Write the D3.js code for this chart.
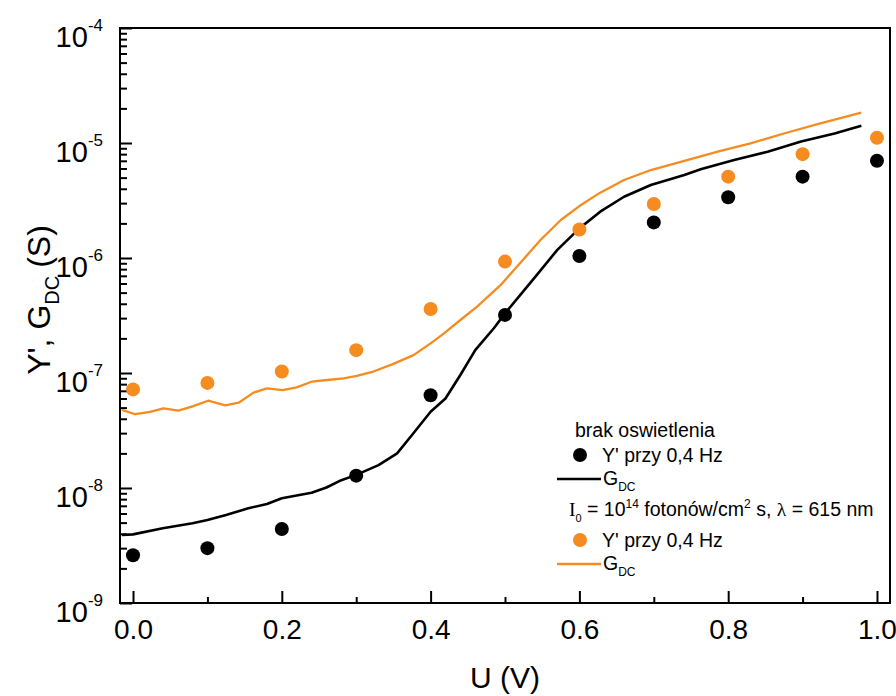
<!DOCTYPE html>
<html>
<head>
<meta charset="utf-8">
<script src="https://cdn.jsdelivr.net/npm/d3@7"></script>
<style>
  html, body { margin: 0; padding: 0; background: #fff; }
  svg { display: block; font-family: "Liberation Sans", Arial, sans-serif; }
</style>
</head>
<body>
<svg id="chart" width="896" height="696"></svg>
<script>
// Measured voltages (V) for the admittance points
const uPoints = [0.0, 0.1, 0.2, 0.3, 0.4, 0.5, 0.6, 0.7, 0.8, 0.9, 1.0];
// Y' at 0.4 Hz, no illumination (S)
const yDark = [2.6e-9, 3.0e-9, 4.4e-9, 1.28e-8, 6.4e-8, 3.2e-7, 1.04e-6, 2.04e-6, 3.37e-6, 5.1e-6, 7.0e-6];
// Y' at 0.4 Hz, illuminated (S)
const yLight = [7.2e-8, 8.2e-8, 1.03e-7, 1.58e-7, 3.6e-7, 9.3e-7, 1.77e-6, 2.95e-6, 5.1e-6, 8.0e-6, 1.11e-5];

// DC conductance, no illumination
const gDarkU = [-0.015, 0.0, 0.04, 0.08, 0.10, 0.125, 0.155, 0.18, 0.20, 0.24, 0.26, 0.28, 0.30, 0.33, 0.355, 0.375, 0.40, 0.42, 0.44, 0.46, 0.485, 0.50, 0.539, 0.57, 0.60, 0.628, 0.66, 0.696, 0.741, 0.763, 0.808, 0.853, 0.898, 0.943, 0.979];
const gDark = [3.9e-9, 3.95e-9, 4.47e-9, 4.93e-9, 5.27e-9, 5.83e-9, 6.66e-9, 7.26e-9, 8.13e-9, 9.1e-9, 1.01e-8, 1.17e-8, 1.30e-8, 1.58e-8, 2.0e-8, 2.89e-8, 4.6e-8, 6.0e-8, 9.6e-8, 1.58e-7, 2.45e-7, 3.3e-7, 6.65e-7, 1.17e-6, 1.81e-6, 2.53e-6, 3.41e-6, 4.31e-6, 5.27e-6, 5.9e-6, 7.11e-6, 8.41e-6, 1.03e-5, 1.21e-5, 1.41e-5];

// DC conductance, illuminated
const gLightU = [-0.015, 0.003, 0.023, 0.041, 0.061, 0.081, 0.101, 0.124, 0.142, 0.162, 0.18, 0.201, 0.22, 0.24, 0.261, 0.283, 0.301, 0.323, 0.35, 0.377, 0.40, 0.418, 0.44, 0.4625, 0.494, 0.516, 0.548, 0.575, 0.60, 0.628, 0.66, 0.696, 0.741, 0.786, 0.83, 0.875, 0.92, 0.979];
const gLight = [4.77e-8, 4.38e-8, 4.6e-8, 4.93e-8, 4.7e-8, 5.16e-8, 5.74e-8, 5.24e-8, 5.52e-8, 6.75e-8, 7.36e-8, 7.11e-8, 7.51e-8, 8.4e-8, 8.69e-8, 8.99e-8, 9.42e-8, 1.03e-7, 1.20e-7, 1.43e-7, 1.81e-7, 2.21e-7, 2.89e-7, 3.78e-7, 5.8e-7, 8.4e-7, 1.44e-6, 2.14e-6, 2.83e-6, 3.70e-6, 4.77e-6, 5.82e-6, 7.0e-6, 8.41e-6, 9.93e-6, 1.21e-5, 1.46e-5, 1.84e-5];

// Axis ticks
const xMajor = [0.0, 0.2, 0.4, 0.6, 0.8, 1.0];
const xMinor = [0.1, 0.3, 0.5, 0.7, 0.9];
const yExponents = [-9, -8, -7, -6, -5, -4];

const orange = "#f68b1f";

const svg = d3.select("#chart");
const frame = { left: 120, right: 890, top: 28, bottom: 603 };

const x = d3.scaleLinear().domain([-0.0175, 1.0175]).range([frame.left, frame.right]);
const y = d3.scaleLog().domain([1e-9, 1e-4]).range([frame.bottom, frame.top]);

// Plot frame
svg.append("rect")
  .attr("x", frame.left).attr("y", frame.top)
  .attr("width", frame.right - frame.left).attr("height", frame.bottom - frame.top)
  .attr("fill", "none").attr("stroke", "#000").attr("stroke-width", 2);

// Bottom axis: inward major and minor ticks
const xAxisMajor = svg.append("g")
  .attr("transform", `translate(0,${frame.bottom})`)
  .call(d3.axisBottom(x).tickValues(xMajor).tickSize(-12).tickPadding(16).tickFormat(d3.format(".1f")));
const xAxisMinor = svg.append("g")
  .attr("transform", `translate(0,${frame.bottom})`)
  .call(d3.axisBottom(x).tickValues(xMinor).tickSize(-6).tickFormat(""));
[xAxisMajor, xAxisMinor].forEach(g => {
  g.select(".domain").remove();
  g.selectAll(".tick line").attr("stroke", "#000").attr("stroke-width", 2);
});
xAxisMajor.selectAll(".tick text")
  .attr("font-size", 28).attr("fill", "#000")
  .attr("font-family", "'Liberation Sans', Arial, sans-serif");

// Left axis: decades plus minor ticks 2..9
const yMinorVals = [];
yExponents.slice(0, -1).forEach(e => { for (let k = 2; k <= 9; k++) yMinorVals.push(k * Math.pow(10, e)); });
const yMajorVals = yExponents.map(e => Math.pow(10, e));

const yAxisMajor = svg.append("g")
  .attr("transform", `translate(${frame.left},0)`)
  .call(d3.axisLeft(y).tickValues(yMajorVals).tickSize(-12).tickFormat(""));
const yAxisMinor = svg.append("g")
  .attr("transform", `translate(${frame.left},0)`)
  .call(d3.axisLeft(y).tickValues(yMinorVals).tickSize(-7).tickFormat(""));
[yAxisMajor, yAxisMinor].forEach(g => {
  g.select(".domain").remove();
  g.selectAll(".tick line").attr("stroke", "#000").attr("stroke-width", 2);
});

// Decade labels as 10 with a superscript exponent
const yLabels = svg.append("g");
yExponents.forEach(e => {
  const t = yLabels.append("text")
    .attr("x", 103).attr("y", y(Math.pow(10, e)) + 19)
    .attr("text-anchor", "end").attr("font-size", 29).attr("fill", "#000");
  t.append("tspan").text("10");
  t.append("tspan").attr("font-size", 17).attr("dy", -16).text("-" + Math.abs(e));
});

// Axis titles
svg.append("text")
  .attr("x", 505).attr("y", 688).attr("text-anchor", "middle")
  .attr("font-size", 30).attr("fill", "#000").text("U (V)");

const yTitle = svg.append("text")
  .attr("transform", "translate(50,300) rotate(-90)")
  .attr("text-anchor", "middle").attr("font-size", 32).attr("fill", "#000");
yTitle.append("tspan").text("Y', G");
yTitle.append("tspan").attr("font-size", 20).attr("dy", 9).text("DC");
yTitle.append("tspan").attr("dy", -9).attr("dx", 8).text("(S)");

// Curves
const line = d3.line().x(d => x(d[0])).y(d => y(d[1]));
svg.append("path")
  .datum(d3.zip(gDarkU, gDark))
  .attr("d", line).attr("fill", "none").attr("stroke", "#000").attr("stroke-width", 2.6)
  .attr("stroke-linejoin", "round");
svg.append("path")
  .datum(d3.zip(gLightU, gLight))
  .attr("d", line).attr("fill", "none").attr("stroke", orange).attr("stroke-width", 2.3)
  .attr("stroke-linejoin", "round");

// Points
svg.append("g").selectAll("circle")
  .data(d3.zip(uPoints, yDark)).join("circle")
  .attr("cx", d => x(d[0])).attr("cy", d => y(d[1])).attr("r", 7).attr("fill", "#000");
svg.append("g").selectAll("circle")
  .data(d3.zip(uPoints, yLight)).join("circle")
  .attr("cx", d => x(d[0])).attr("cy", d => y(d[1])).attr("r", 7).attr("fill", orange);

// Legend
const lg = svg.append("g").attr("font-size", 19.5).attr("fill", "#000");
lg.append("text").attr("x", 575).attr("y", 437).text("brak oswietlenia");

lg.append("circle").attr("cx", 580).attr("cy", 455).attr("r", 7).attr("fill", "#000");
lg.append("text").attr("x", 602).attr("y", 462).text("Y' przy 0,4 Hz");
lg.append("line").attr("x1", 557).attr("x2", 601).attr("y1", 479).attr("y2", 479)
  .attr("stroke", "#000").attr("stroke-width", 2.6);
const g1 = lg.append("text").attr("x", 603).attr("y", 485);
g1.append("tspan").text("G");
g1.append("tspan").attr("font-size", 12).attr("dy", 6).text("DC");

const serif = "'Liberation Serif', 'Times New Roman', serif";
const cond = lg.append("text").attr("x", 569).attr("y", 516);
cond.append("tspan").attr("font-family", serif).text("I");
cond.append("tspan").attr("font-size", 11).attr("dy", 6).text("0");
cond.append("tspan").attr("dy", -6).text(" = 10");
cond.append("tspan").attr("font-size", 12).attr("dy", -8).text("14");
cond.append("tspan").attr("dy", 8).text(" fotonów/cm");
cond.append("tspan").attr("font-size", 12).attr("dy", -8).text("2");
cond.append("tspan").attr("dy", 8).text(" s, ");
cond.append("tspan").attr("font-family", serif).text("λ");
cond.append("tspan").text(" = 615 nm");

lg.append("circle").attr("cx", 580).attr("cy", 540).attr("r", 7).attr("fill", orange);
lg.append("text").attr("x", 602).attr("y", 547).text("Y' przy 0,4 Hz");
lg.append("line").attr("x1", 557).attr("x2", 601).attr("y1", 564).attr("y2", 564)
  .attr("stroke", orange).attr("stroke-width", 2.3);
const g2 = lg.append("text").attr("x", 603).attr("y", 570);
g2.append("tspan").text("G");
g2.append("tspan").attr("font-size", 12).attr("dy", 6).text("DC");
</script>
</body>
</html>
